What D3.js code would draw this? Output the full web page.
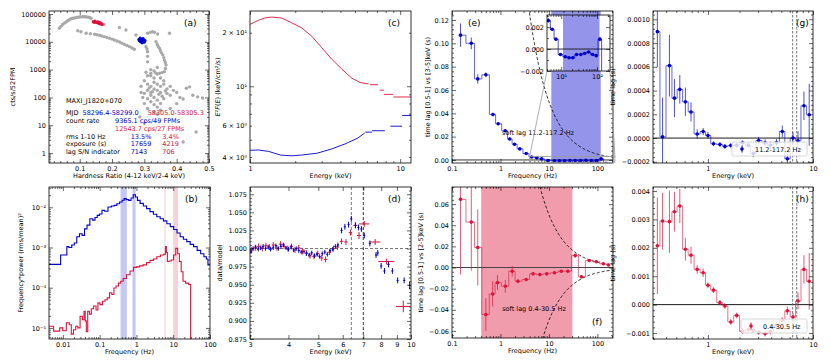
<!DOCTYPE html>
<html><head><meta charset="utf-8">
<script src="https://cdn.jsdelivr.net/npm/d3@7"></script>
<style>
body{margin:0;background:#fff}
svg{font-family:"DejaVu Sans",sans-serif;font-size:6.5px}
</style></head><body>
<script>
// ---------- data ----------
// (a) hardness-intensity diagram
const aGrayHR = [0.037,0.042,0.047,0.053,0.058,0.063,0.068,0.073,0.078,0.084,0.089,0.094,0.100,0.105,0.110,0.115,0.120,0.125,0.130,0.135,0.171,0.175,
  0.094,0.104,0.12,0.133,0.146,0.153,0.161,0.168,0.176,0.184,0.192,0.200,0.207,0.215,0.223,0.230,0.238,0.246,0.254,0.262,0.269,
  0.223,0.243,0.274,0.31,0.331,0.341,0.378,0.318,0.325,
  0.305,0.308,0.31,0.31,0.31,
  0.336,0.34,0.343,0.347,0.35,0.353,0.357,0.36,0.362,0.365,0.367,0.365,0.362,0.355,0.347,0.335,0.32,
  0.30,0.31,0.32,0.33,0.34,0.35,0.32,0.33,0.31,0.34,0.35,0.36,0.33,0.32,0.34,0.31,0.30,0.32,0.33,0.34,0.35,0.36,0.37,0.37,0.36,0.35,0.29,0.30,0.31,0.33,0.35,0.34,0.32,0.33,0.34,0.345,0.325,0.315,0.355,0.365,0.38,0.38,0.39,0.40,0.41,0.295,0.29,0.31,0.305,0.33,0.34,0.32,
  0.42,0.45,0.48,0.44,0.43,0.465,0.286,0.30,0.42,0.46,0.40,0.38];
const aGrayCnt = [31000,36000,42000,47000,52000,57000,62000,67000,70000,72000,74000,76000,78000,79000,80000,80000,79000,77000,75000,70000,43600,42000,
  25100,23100,20200,19500,18600,18000,17100,16200,15300,14300,13400,12500,11600,10700,9860,9000,8200,7400,6700,6000,5400,
  33000,26500,17600,20200,22000,19000,20200,21500,23000,
  6700,5500,4400,3000,1900,
  10100,8000,6800,5800,4800,4000,3400,2700,2200,1800,1460,1100,840,780,740,760,740,
  400,300,250,200,180,150,120,100,90,80,250,300,500,600,700,180,140,70,55,45,60,90,140,200,400,500,250,60,40,30,35,25,150,350,300,130,160,220,110,170,120,250,180,150,100,100,150,600,800,900,1200,1000,
  88,120,95,240,215,105,20,12,2.5,5.7,60,40];
const aRedHR = [0.142,0.147,0.150,0.153,0.156,0.158,0.161,0.164,0.166,0.169,0.145,0.160];
const aRedCnt = [53000,55000,51000,49000,52000,47000,45000,48000,44000,42000,50000,50000];
const aBlueHR = [0.283,0.287,0.290,0.292,0.295,0.298,0.300,0.293,0.288,0.296,0.302,0.285];
const aBlueCnt = [12000,13500,11000,12500,10500,11800,9800,9200,10200,13000,11000,11000];

// (b) power spectra
const bBlueF = [0.0042,0.0085,0.0089,0.0123,0.0134,0.016,0.019,0.022,0.026,0.031,0.036,0.042,0.049,0.06,0.07,0.08,0.092,0.106,0.126,0.15,0.19,0.23,0.27,0.32,0.38,0.44,0.49,0.56,0.67,0.76,0.88,1.0,1.13,1.4,1.7,2.1,2.6,3.2,4.0,4.9,6,7.5,9.2,11.5,14,17,21,26,32,40,50,62,75,85,91,100];
const bBlueP = [3.8e-4,3.8e-4,6.5e-4,6.5e-4,1.05e-3,1.0e-3,1.15e-3,1.3e-3,1.85e-3,2.2e-3,2.0e-3,2.9e-3,3.6e-3,5.2e-3,4.8e-3,5.6e-3,6.3e-3,6.8e-3,8.4e-3,8.0e-3,1.02e-2,1.08e-2,1.12e-2,1.23e-2,1.35e-2,1.5e-2,1.64e-2,1.55e-2,1.49e-2,1.7e-2,2.06e-2,1.8e-2,1.49e-2,1.25e-2,1.08e-2,9.3e-3,7.8e-3,6.7e-3,5.8e-3,5.2e-3,4.6e-3,3.9e-3,3.3e-3,2.8e-3,2.3e-3,1.85e-3,1.6e-3,1.4e-3,1.2e-3,1.05e-3,8.5e-4,7.0e-4,5.9e-4,5.2e-4,3.7e-4,3.7e-4];
const bRedF = [0.0042,0.0075,0.009,0.011,0.014,0.016,0.018,0.021,0.024,0.027,0.032,0.036,0.039,0.042,0.045,0.05,0.056,0.063,0.075,0.085,0.095,0.11,0.13,0.15,0.173,0.2,0.23,0.26,0.3,0.35,0.4,0.48,0.6,0.75,0.92,1.1,1.35,1.7,2.1,2.6,3.2,4.0,5.0,6.0,6.3,6.7,7.2,8.3,9.5,11,12.5,14,15.5,17.5,19.5,24,29,30.5];
const bRedP = [1.1e-5,8.3e-6,1.0e-5,8.5e-6,1.35e-5,1.2e-5,7e-6,9e-6,1.1e-5,1.0e-5,1.95e-5,1.6e-5,2.6e-5,1.5e-5,8e-6,2.6e-5,2.2e-5,3.0e-5,3.5e-5,2.8e-5,4.2e-5,3.8e-5,4.6e-5,5.0e-5,5.6e-5,7.5e-5,6.8e-5,9.8e-5,1.1e-4,1.3e-4,1.45e-4,1.7e-4,2.1e-4,2.6e-4,3.2e-4,3.3e-4,3.5e-4,3.7e-4,4.2e-4,4.8e-4,5.2e-4,5.9e-4,6.5e-4,6.8e-4,1.05e-3,7.5e-4,4.5e-4,4.6e-4,4.9e-4,6.5e-4,9.5e-4,7e-4,4.5e-4,2.5e-4,1.45e-4,1.3e-4,1.2e-4,3e-6];
const bBlueBands = [[0.37,0.55],[0.78,0.95]];
const bRedBands = [[5.8,6.2],[10,13.5]];

// (c) unfolded spectra
const cRedE = [1.0,1.14,1.25,1.4,1.63,1.9,2.21,2.58,3.0,3.5,4.08,4.76,5.41,6.15];
const cRedF = [22.3,23.5,24.2,24.5,24.2,22.7,21.3,19.1,16.5,14.2,12.5,11.1,10.5,10.3];
const cRedBinLo = [6.3,7.3,7.8,9.0], cRedBinHi = [7.1,7.8,9.0,11.8], cRedBinF = [10.2,9.5,9.0,8.7];
const cBlueE = [1.0,1.14,1.33,1.6,1.9,2.2,2.8,3.5,4.3,5.2,5.8];
const cBlueF = [4.36,4.38,4.3,4.1,4.06,4.1,4.2,4.44,4.74,5.1,5.45];
const cBlueBinLo = [5.85,6.5,8.6,10.3], cBlueBinHi = [6.5,7.9,10.3,11.8], cBlueBinF = [5.52,5.62,5.96,6.85];

// (d) ratio to model
const dBlueE = [3.02,3.07,3.13,3.19,3.25,3.31,3.37,3.44,3.50,3.57,3.64,3.71,3.78,3.85,3.93,4.00,4.08,4.16,4.24,4.32,4.40,4.49,4.58,4.67,4.76,4.86,4.95,5.05,5.15,5.25,5.35,5.46,5.57,5.68,5.79,5.95,6.10,6.27,6.40,6.60,6.75,6.90,7.05,7.35,7.70,7.80,8.00,8.20,8.45,8.70,9.05,9.50,9.90];
const dBlueR = [0.996,1.000,1.002,0.999,1.001,1.003,1.000,1.002,0.999,1.001,1.004,1.000,1.003,1.005,1.001,0.999,1.002,0.998,1.000,0.997,0.995,0.996,0.993,0.991,0.994,0.990,0.992,0.989,0.993,0.995,0.992,0.997,0.999,1.003,1.005,1.025,1.030,1.033,1.041,1.032,1.029,1.027,1.018,1.007,0.991,0.994,0.976,0.969,0.978,0.969,0.956,0.956,0.949];
const dBlueErr = [0.003,0.003,0.003,0.003,0.003,0.003,0.003,0.003,0.003,0.003,0.003,0.003,0.003,0.003,0.003,0.003,0.003,0.003,0.003,0.003,0.003,0.003,0.003,0.003,0.003,0.003,0.003,0.003,0.003,0.003,0.003,0.003,0.003,0.003,0.003,0.004,0.004,0.004,0.004,0.004,0.004,0.004,0.004,0.004,0.004,0.004,0.004,0.004,0.004,0.004,0.004,0.004,0.005];
const dRedE = [3.04,3.12,3.2,3.29,3.38,3.47,3.57,3.67,3.77,3.87,3.98,4.09,4.2,4.32,4.44,4.57,4.7,4.84,4.98,5.13,5.28,5.44,5.6,5.77,5.95,6.15,6.36,6.6,6.78,7.05,7.65,8.33,9.44];
const dRedR = [0.998,1.001,1.003,1.000,1.004,1.002,1.005,1.001,1.006,1.003,1.000,1.003,0.998,1.001,0.996,0.994,0.990,0.989,0.993,0.987,0.985,0.995,1.000,1.002,1.010,1.009,1.022,1.032,1.018,1.034,1.009,0.982,0.920];
const dRedXe = [0.04,0.04,0.04,0.04,0.04,0.04,0.04,0.04,0.05,0.05,0.05,0.05,0.05,0.05,0.05,0.06,0.06,0.06,0.06,0.06,0.07,0.07,0.07,0.07,0.08,0.08,0.08,0.1,0.1,0.27,0.3,0.5,0.5];
const dRedYe = [0.004,0.004,0.004,0.004,0.004,0.004,0.004,0.004,0.004,0.004,0.004,0.004,0.004,0.004,0.004,0.004,0.004,0.004,0.004,0.004,0.004,0.004,0.004,0.004,0.004,0.004,0.004,0.004,0.005,0.004,0.004,0.004,0.008];
const dLines = [6.4, 7.0];

// (e) lag-frequency, hard state
const eFreq = [0.15,0.25,0.34,0.5,0.7,0.9,1.25,1.55,1.95,2.5,3.4,4.4,5.6,7.1,9.5,13,16.5,21,27,35,45,58,75,95,120,150];
const eLag = [0.107,0.100,0.0695,0.073,0.039,0.031,0.025,0.018,0.0135,0.0095,0.0055,0.0026,0.0018,0.0009,-0.0005,-0.0007,-0.0008,-0.0008,-0.0005,-0.0005,-0.0004,-0.00027,-0.0005,-0.0006,0.0009,-0.003];
const eErr = [0.010,0.005,0.004,0.002,0.0015,0.0012,0.001,0.001,0.0008,0.0006,0.0004,0.0002,0.0001,0.0001,0.0001,0.0001,0.0001,0.0001,0.0001,0.0001,0.0001,0.00012,0.00012,0.00015,0.0002,0.0004];
const eBand = [11.2, 117.2];

// (f) lag-frequency, soft state
const fFreq = [0.15,0.25,0.34,0.5,0.69,0.87,1.26,1.75,2.3,3.4,4.7,6.5,9,13,18,24.5,35,47,68,95,133,170];
const fLag = [0.0645,0.043,0.019,-0.0445,-0.025,-0.0143,-0.0177,-0.0035,-0.013,-0.0114,-0.006,-0.0067,-0.006,-0.005,-0.0035,-0.0035,0.0113,-0.0088,0.0066,0.0054,0.0035,0.0024];
const fErr = [0.071,0.046,0.036,0.0155,0.012,0.007,0.006,0.005,0.002,0.0015,0.0012,0.001,0.001,0.001,0.001,0.0008,0.002,0.0015,0.001,0.0008,0.0008,0.0008];
const fBand = [0.4, 30.5];

// (g),(h) lag-energy
const ghE = [0.33,0.37,0.43,0.48,0.54,0.61,0.69,0.79,0.9,1.0,1.13,1.3,1.45,1.65,1.88,2.13,2.42,2.7,3.04,3.5,3.93,4.5,5.1,5.7,6.45,7.2,8.2,9.2];
const gLag = [0.000896,0.00001,0.00061,0.000336,0.00041,0.000305,0.00022,0.000034,0.000055,0.000022,-0.000048,-0.000054,-0.00007,-0.000062,-0.00006,-0.00004,-0.00006,-0.00013,-0.00002,-0.00004,-0.00006,-0.000037,0.000055,-0.000175,0.0,-0.000023,0.000272,0.000196];
const gErr = [0.0003,0.00033,0.00026,0.00016,0.00012,0.00012,0.00008,0.00004,0.00003,0.00003,0.00002,0.00002,0.00002,0.00002,0.00002,0.00002,0.00002,0.00003,0.00003,0.00003,0.00003,0.00003,0.00005,0.00004,0.00005,0.00008,0.00012,0.00026];
const hLag = [0.00207,0.00294,0.00292,0.00327,0.00347,0.00195,0.00174,0.00124,0.00112,0.00068,0.00051,0.00007,-0.00005,-0.00061,-0.00038,-0.00094,-0.00088,-0.0009,-0.00097,-0.00102,-0.00095,-0.00073,-0.00055,-0.00022,-0.00044,0.00013,0.00124,0.00082];
const hErr = [0.0017,0.001,0.0011,0.0007,0.0006,0.0004,0.0003,0.00015,0.00015,0.0001,0.0001,0.0001,0.0001,0.0001,0.0001,0.0001,0.0001,0.0001,0.0001,0.0001,0.0001,0.0001,0.0001,0.00015,0.00015,0.0003,0.0005,0.001];
const ghLines = [6.4, 7.0];

// tick labels
const supLabels = {"-5":"10⁻⁵","-4":"10⁻⁴","-3":"10⁻³","-2":"10⁻²","1":"10¹","2":"10²"};
const aYTicks = [1,10,100,1000,10000,100000];
const aXTicks = [0.1,0.2,0.3,0.4,0.5];
const freqTicks = [0.01,0.1,1,10,100];
const cYTicks = [4,6,10,20], cYLabels = ["4 × 10⁰","6 × 10⁰","10¹","2 × 10¹"];
const dXTicks = [3,4,5,6,7,8,9,10];

// ---------- drawing ----------
const BLUE = "#0000cd", RED = "#dc143c", GRAY = "#a9a9a9";
const svg = d3.select("body").append("svg").attr("width", 830).attr("height", 361);
const W = 161, H = 152, cols = [49, 250, 452, 653], rows = [11, 187];
let clipN = 0;

function panel(l, t, w, h, x, y) {
  x.range([0, w]); y.range([h, 0]);
  const g = svg.append("g").attr("transform", `translate(${l},${t})`);
  const id = "clip" + (clipN++);
  g.append("clipPath").attr("id", id).append("rect").attr("width", w).attr("height", h);
  const body = g.append("g").attr("clip-path", `url(#${id})`);
  return {g, body, x, y, w, h};
}

const inDom = (s, vals) => { const [a, b] = s.domain(); return vals.filter(v => v >= Math.min(a,b) - 1e-12 && v <= Math.max(a,b) + 1e-12); };
function logMinor(s) {
  const [a, b] = s.domain(), out = [];
  for (let k = Math.floor(Math.log10(a)); k <= Math.ceil(Math.log10(b)); k++)
    for (let m = 2; m <= 9; m++) out.push(m * Math.pow(10, k));
  return inDom(s, out);
}
function linMinor(s, step) {
  const [a, b] = s.domain();
  return d3.range(Math.ceil(a / step) * step, b, step).map(v => +v.toFixed(8));
}

function axes(p, xs, ys) {
  const {g, x, y, w, h} = p;
  const add = (tr, gen, spec, lab) => {
    gen.tickValues(spec.v).tickSizeInner(-spec.s).tickSizeOuter(0).tickPadding(3)
      .tickFormat(lab && spec.f ? spec.f : () => "");
    const a = g.append("g").attr("transform", tr).call(gen);
    a.select(".domain").remove();
    a.attr("font-size", null).attr("font-family", null);
    a.selectAll("line").attr("stroke-width", 0.6);
  };
  xs.forEach(s => { add(`translate(0,${h})`, d3.axisBottom(x), s, true); add("translate(0,0)", d3.axisTop(x), s, false); });
  ys.forEach(s => { add("translate(0,0)", d3.axisLeft(y), s, true); add(`translate(${w},0)`, d3.axisRight(y), s, false); });
  g.append("rect").attr("width", w).attr("height", h).attr("fill", "none").attr("stroke", "#000").attr("stroke-width", 0.8);
}

function xlabel(p, txt) {
  p.g.append("text").attr("x", p.w / 2).attr("y", p.h + 15).attr("text-anchor", "middle").text(txt);
}
function ylabel(p, txt, dx) {
  return p.g.append("text").attr("transform", `translate(${-dx},${p.h / 2}) rotate(-90)`).attr("text-anchor", "middle").text(txt);
}
function tag(p, txt, x, y) {
  p.g.append("text").attr("x", x).attr("y", y).attr("font-size", 9).text(txt);
}
function stepLine(p, xs, ys, color, op, sw, curve) {
  p.body.append("path").datum(xs.map((v, i) => [v, ys[i]]))
    .attr("d", d3.line().x(d => p.x(d[0])).y(d => p.y(d[1])).curve(curve || d3.curveStep))
    .attr("fill", "none").attr("stroke", color).attr("stroke-opacity", op).attr("stroke-width", sw);
}
function errPts(p, xs, ys, es, color) {
  const gg = p.body.append("g");
  xs.forEach((v, i) => {
    gg.append("line").attr("x1", p.x(v)).attr("x2", p.x(v)).attr("y1", p.y(ys[i] - es[i])).attr("y2", p.y(ys[i] + es[i]))
      .attr("stroke", color).attr("stroke-opacity", 0.7).attr("stroke-width", 1);
    gg.append("circle").attr("cx", p.x(v)).attr("cy", p.y(ys[i])).attr("r", 1.8).attr("fill", color);
  });
}
function hline(p, v, color, sw, dash) {
  p.body.append("line").attr("x1", 0).attr("x2", p.w).attr("y1", p.y(v)).attr("y2", p.y(v))
    .attr("stroke", color).attr("stroke-width", sw).attr("stroke-dasharray", dash || null);
}
function vline(p, v, color, sw, dash) {
  p.body.append("line").attr("x1", p.x(v)).attr("x2", p.x(v)).attr("y1", 0).attr("y2", p.h)
    .attr("stroke", color).attr("stroke-width", sw).attr("stroke-dasharray", dash || null);
}
function band(p, r, color, op) {
  p.body.append("rect").attr("x", p.x(r[0])).attr("width", p.x(r[1]) - p.x(r[0])).attr("y", 0).attr("height", p.h)
    .attr("fill", color).attr("fill-opacity", op);
}
const fmtFrom = (vals, labels) => d => labels[vals.indexOf(d)];

// ----- (a)
{
  const p = panel(cols[0], rows[0], 160, H, d3.scaleLinear().domain([0.005, 0.5]), d3.scaleLog().domain([0.44, 128000]));
  const dots = (hr, c, color, r) => p.body.append("g").selectAll("circle").data(hr).join("circle")
    .attr("cx", d => p.x(d)).attr("cy", (d, i) => p.y(c[i])).attr("r", r).attr("fill", color);
  dots(aGrayHR, aGrayCnt, GRAY, 1.7);
  dots(aRedHR, aRedCnt, RED, 1.6);
  dots(aBlueHR, aBlueCnt, BLUE, 1.6);
  axes(p, [{v: aXTicks, s: 4, f: d3.format(".1f")}, {v: linMinor(p.x, 0.02).filter(v => !aXTicks.includes(v)), s: 2}],
    [{v: aYTicks, s: 4, f: d => String(d)}, {v: logMinor(p.y), s: 2}]);
  xlabel(p, "Hardness Ratio (4-12 keV/2-4 keV)");
  ylabel(p, "cts/s/52FPM", 34);
  tag(p, "(a)", 135, 15);
  const rowsY = [92.4, 103.7, 112, 119.7, 127.7, 135.4, 143.1];
  const info = [
    [["MAXI_J1820+070", 17, "#000"]],
    [["MJD", 17, "#000"], ["58296.4-58299.0", 33.5, BLUE], ["58305.0-58305.3", 98.7, RED]],
    [["count rate", 17, "#000"], ["9365.1 cps/49 FPMs", 66, BLUE]],
    [["12543.7 cps/27 FPMs", 66, RED]],
    [["rms 1-10 Hz", 17, "#000"], ["13.5%", 81.7, BLUE], ["3.4%", 113.3, RED]],
    [["exposure (s)", 17, "#000"], ["17659", 81.7, BLUE], ["4219", 113.3, RED]],
    [["lag S/N indicator", 17, "#000"], ["7143", 81.7, BLUE], ["706", 113.3, RED]]
  ];
  info.forEach((row, i) => row.forEach(([t, x, c]) =>
    p.g.append("text").attr("x", x).attr("y", rowsY[i]).attr("fill", c).text(t)));
}

// ----- (b)
{
  const p = panel(cols[0], rows[1], W, H, d3.scaleLog().domain([0.0042, 100]), d3.scaleLog().domain([5.3e-6, 0.032]));
  bBlueBands.forEach(r => band(p, r, BLUE, 0.22));
  bRedBands.forEach(r => band(p, r, RED, 0.2));
  stepLine(p, bBlueF, bBlueP, BLUE, 1, 1.1);
  stepLine(p, bRedF, bRedP, RED, 1, 1.1);
  axes(p, [{v: freqTicks, s: 4, f: fmtFrom(freqTicks, ["0.01", "0.1", "1", "10", "100"])}, {v: logMinor(p.x), s: 2}],
    [{v: [1e-5, 1e-4, 1e-3, 1e-2], s: 4, f: d => supLabels[Math.round(Math.log10(d))]}, {v: logMinor(p.y), s: 2}]);
  xlabel(p, "Frequency (Hz)");
  ylabel(p, "Frequency*power (rms/mean)²", 26);
  tag(p, "(b)", 136, 15);
}

// ----- (c)
{
  const p = panel(cols[1], rows[0], W, H, d3.scaleLog().domain([1, 11.8]), d3.scaleLog().domain([3.7, 26.5]));
  stepLine(p, cRedE, cRedF, RED, 1, 0.9, d3.curveLinear);
  stepLine(p, cBlueE, cBlueF, BLUE, 1, 0.9, d3.curveLinear);
  const seg = (lo, hi, f, c) => lo.forEach((v, i) => p.body.append("line").attr("x1", p.x(v)).attr("x2", p.x(hi[i]))
    .attr("y1", p.y(f[i])).attr("y2", p.y(f[i])).attr("stroke", c).attr("stroke-width", 0.9));
  seg(cRedBinLo, cRedBinHi, cRedBinF, RED);
  seg(cBlueBinLo, cBlueBinHi, cBlueBinF, BLUE);
  axes(p, [{v: [1, 10], s: 4, f: d => String(d)}, {v: logMinor(p.x), s: 2}],
    [{v: [10], s: 4, f: fmtFrom(cYTicks, cYLabels)}, {v: [4, 6, 20], s: 2, f: fmtFrom(cYTicks, cYLabels)}, {v: [5, 7, 8, 9], s: 2}]);
  xlabel(p, "Energy (keV)");
  const yl = p.g.append("text").attr("transform", `translate(-30,${p.h / 2}) rotate(-90)`).attr("text-anchor", "middle");
  yl.append("tspan").attr("font-style", "italic").text("E");
  yl.append("tspan").text("²");
  yl.append("tspan").attr("font-style", "italic").text("F");
  yl.append("tspan").text("(");
  yl.append("tspan").attr("font-style", "italic").text("E");
  yl.append("tspan").text(") (keV/cm²/s)");
  tag(p, "(c)", 138, 15);
}

// ----- (d)
{
  const p = panel(cols[1], rows[1], W, H, d3.scaleLog().domain([3, 10]), d3.scaleLinear().domain([0.875, 1.085]));
  hline(p, 1.0, "#777", 1, "3,2");
  vline(p, dLines[0], "#777", 1, "3,2");
  vline(p, dLines[1], "#000", 0.8, "3,2");
  const cross = (E, R, xe, ye, c) => E.forEach((v, i) => {
    p.body.append("line").attr("x1", p.x(v - xe[i])).attr("x2", p.x(v + xe[i])).attr("y1", p.y(R[i])).attr("y2", p.y(R[i])).attr("stroke", c).attr("stroke-width", 1);
    p.body.append("line").attr("x1", p.x(v)).attr("x2", p.x(v)).attr("y1", p.y(R[i] - ye[i])).attr("y2", p.y(R[i] + ye[i])).attr("stroke", c).attr("stroke-width", 1);
  });
  cross(dRedE, dRedR, dRedXe, dRedYe, RED);
  cross(dBlueE, dBlueR, dBlueE.map(v => v * 0.008), dBlueErr, BLUE);
  const yt = d3.range(0.875, 1.0751, 0.025).map(v => +v.toFixed(3));
  axes(p, [{v: dXTicks, s: 4, f: d => String(d)}],
    [{v: yt, s: 4, f: d3.format(".3f")}, {v: linMinor(p.y, 0.005).filter(v => !yt.some(t => Math.abs(t - v) < 1e-6)), s: 2}]);
  xlabel(p, "Energy (keV)");
  ylabel(p, "data/model", 28);
  tag(p, "(d)", 138, 15);
}

// ----- (e)
{
  const p = panel(cols[2], rows[0], W, H, d3.scaleLog().domain([0.1, 210]), d3.scaleLinear().domain([-0.0026, 0.1277]));
  band(p, eBand, BLUE, 0.42);
  hline(p, 0, "#000", 0.8);
  const fr = d3.range(Math.log10(2), Math.log10(210), 0.02).map(v => Math.pow(10, v));
  stepLine(p, fr, fr.map(f => 1 / (2 * f)), "#000", 1, 0.8, d3.curveLinear);
  p.body.select("path:last-of-type").attr("stroke-dasharray", "3,2");
  stepLine(p, eFreq, eLag, BLUE, 0.6, 1);
  errPts(p, eFreq, eLag, eErr, BLUE);
  const yt = [0, 0.02, 0.04, 0.06, 0.08, 0.10, 0.12];
  axes(p, [{v: [0.1, 1, 10, 100], s: 4, f: d => String(d)}, {v: logMinor(p.x), s: 2}],
    [{v: yt, s: 4, f: d3.format(".2f")}, {v: linMinor(p.y, 0.004).filter(v => !yt.some(t => Math.abs(t - v) < 1e-6)), s: 2}]);
  xlabel(p, "Frequency (Hz)");
  ylabel(p, "time lag [0.5-1] vs [3-5]keV (s)", 22);
  tag(p, "(e)", 16, 15);
  p.g.append("text").attr("x", 86).attr("y", 124).attr("text-anchor", "middle").text("soft lag 11.2-117.2 Hz");
  // zoom indicator
  const rx0 = p.x(4), rx1 = p.x(230), ry0 = p.y(0.003), ry1 = p.y(-0.002);
  p.g.append("rect").attr("x", rx0).attr("y", ry0).attr("width", rx1 - rx0).attr("height", ry1 - ry0)
    .attr("fill", "none").attr("stroke", "#999").attr("stroke-width", 0.8);
  // inset
  const il = 547, it = 15, iw = 63, ih = 56;
  p.g.append("line").attr("x1", il - cols[2]).attr("y1", it + ih - rows[0]).attr("x2", rx0).attr("y2", ry0).attr("stroke", "#999").attr("stroke-width", 0.8);
  p.g.append("line").attr("x1", il + iw - cols[2]).attr("y1", it + ih - rows[0]).attr("x2", rx1).attr("y2", ry0).attr("stroke", "#999").attr("stroke-width", 0.8);
  const q = panel(il, it, iw, ih, d3.scaleLog().domain([4, 230]), d3.scaleLinear().domain([-0.002, 0.0031]));
  q.body.append("rect").attr("width", iw).attr("height", ih).attr("fill", "#fff");
  band(q, eBand, BLUE, 0.42);
  hline(q, 0, "#000", 0.8);
  stepLine(q, eFreq, eLag, BLUE, 0.7, 1);
  errPts(q, eFreq, eLag, eErr, BLUE);
  axes(q, [{v: [10, 100], s: 4, f: d => supLabels[Math.round(Math.log10(d))]}, {v: logMinor(q.x), s: 2}],
    [{v: [-0.002, 0, 0.002], s: 4, f: d3.format(".3f")}, {v: [-0.001, 0.001, 0.003], s: 2}]);
}

// ----- (f)
{
  const p = panel(cols[2], rows[1], W, 151, d3.scaleLog().domain([0.1, 210]), d3.scaleLinear().domain([-0.0667, 0.0762]));
  band(p, fBand, RED, 0.42);
  hline(p, 0, "#444", 1);
  const fr = d3.range(Math.log10(2), Math.log10(210), 0.02).map(v => Math.pow(10, v));
  [1, -1].forEach(sg => {
    stepLine(p, fr, fr.map(f => sg / (2 * f)), "#000", 1, 0.8, d3.curveLinear);
    p.body.select("path:last-of-type").attr("stroke-dasharray", "3,2");
  });
  stepLine(p, fFreq, fLag, RED, 0.6, 1);
  errPts(p, fFreq, fLag, fErr, RED);
  const yt = [-0.06, -0.04, -0.02, 0, 0.02, 0.04, 0.06];
  axes(p, [{v: [0.1, 1, 10, 100], s: 4, f: d => String(d)}, {v: logMinor(p.x), s: 2}],
    [{v: yt, s: 4, f: d3.format(".2f")}, {v: linMinor(p.y, 0.004).filter(v => !yt.some(t => Math.abs(t - v) < 1e-6)), s: 2}]);
  xlabel(p, "Frequency (Hz)");
  ylabel(p, "time lag [0.5-1] vs [2-5]keV (s)", 29);
  tag(p, "(f)", 140, 138);
  p.g.append("text").attr("x", 82).attr("y", 124).attr("text-anchor", "middle").text("soft lag 0.4-30.5 Hz");
}

// ----- (g), (h)
function lagEnergy(row, lag, err, color, dom, major, minorStep, fmt, name, legTxt, leg) {
  const p = panel(cols[3], rows[row], 160, H, d3.scaleLog().domain([0.3, 10]), d3.scaleLinear().domain(dom));
  hline(p, 0, "#000", 0.9);
  ghLines.forEach(v => vline(p, v, "#666", 0.9, "2.5,1.5"));
  stepLine(p, ghE, lag, color, 0.6, 1);
  errPts(p, ghE, lag, err, color);
  axes(p, [{v: [1, 10], s: 4, f: d => String(d)}, {v: logMinor(p.x), s: 2}],
    [{v: major, s: 4, f: d3.format(fmt)}, {v: linMinor(p.y, minorStep).filter(v => !major.some(t => Math.abs(t - v) < 1e-9)), s: 2}]);
  xlabel(p, "Energy (keV)");
  ylabel(p, "time lag (s)", 38);
  tag(p, name, 143, 15);
  p.g.append("rect").attr("x", leg[0]).attr("y", leg[1]).attr("width", 154 - leg[0]).attr("height", 14).attr("rx", 1.5)
    .attr("fill", "#fff").attr("fill-opacity", 0.8).attr("stroke", "#ccc").attr("stroke-width", 0.8);
  p.g.append("line").attr("x1", leg[2]).attr("x2", leg[2]).attr("y1", leg[1] + 3.5).attr("y2", leg[1] + 10.5).attr("stroke", color).attr("stroke-width", 1);
  p.g.append("circle").attr("cx", leg[2]).attr("cy", leg[1] + 7).attr("r", 1.8).attr("fill", color);
  p.g.append("text").attr("x", leg[3]).attr("y", leg[1] + 9.5).text(legTxt);
}
lagEnergy(0, gLag, gErr, BLUE, [-0.00021, 0.00107], [-0.0002, 0, 0.0002, 0.0004, 0.0006, 0.0008, 0.0010], 0.00004, ".4f", "(g)", "11.2-117.2 Hz", [79, 131, 89, 102]);
lagEnergy(1, hLag, hErr, RED, [-0.00121, 0.00414], [-0.001, 0, 0.001, 0.002, 0.003, 0.004], 0.0002, ".3f", "(h)", "0.4-30.5 Hz", [88, 132, 98, 110]);
</script></body></html>
